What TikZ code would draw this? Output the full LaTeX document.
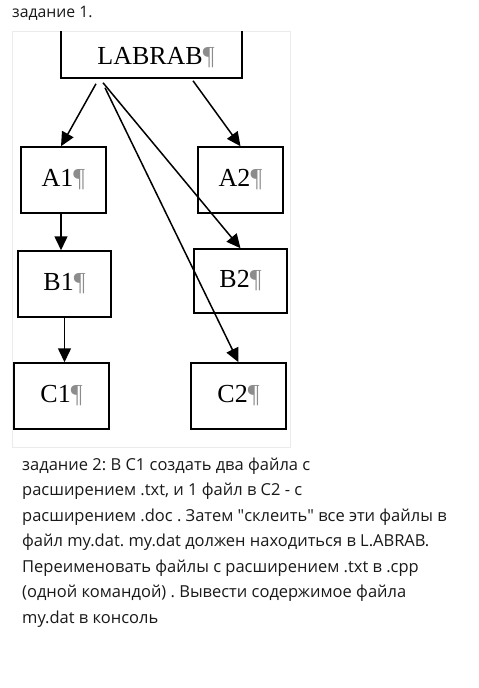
\documentclass[tikz,border=0pt]{standalone}
\usepackage{fontspec}
\setmainfont{Open Sans}
\newfontfamily\boxfont{Liberation Serif}
\usetikzlibrary{arrows.meta}
\frenchspacing

\newcommand{\pil}{\textcolor{black!45}{¶}}

\tikzset{
  box/.style={draw, line width=1.5pt, font=\boxfont\fontsize{26}{30}\selectfont},
  arr/.style={line width=1.5pt, -{Triangle[length=14pt,width=13pt]}},
  line/.style={font=\fontsize{16.5}{19}\selectfont, anchor=base west, inner sep=0pt, text=black!90}
}

\begin{document}
\begin{tikzpicture}[x=1pt,y=-1pt]
\useasboundingbox (0,0) rectangle (479,688);

\node[anchor=base west, inner sep=0pt, text=black!90, font=\fontsize{15.8}{18}\selectfont] (title) at (12,17) {задание 1.};

% picture frame
\draw[black!8, line width=0.8pt] (12,31) rectangle (290,447);

\begin{scope}
\clip (12,31) rectangle (290,447);
\node[box, minimum width=181, minimum height=58] (labrab) at (151.5,49) {};
\node[font=\boxfont\fontsize{26}{30}\selectfont] (labrabtxt) at (156,57.5) {LABRAB\pil};

\node[box, minimum width=85, minimum height=66] (a1) at (63.5,180) {A1\pil};
\node[box, minimum width=85, minimum height=66] (a2) at (240.5,180) {A2\pil};
\node[box, minimum width=93, minimum height=66] (b1) at (64.5,284) {B1\pil};
\node[box, minimum width=93, minimum height=64] (b2) at (240.5,281) {B2\pil};
\node[box, minimum width=95, minimum height=66] (c1) at (61.5,396) {C1\pil};
\node[box, minimum width=95, minimum height=66] (c2) at (238.5,396) {C2\pil};

\draw[arr] ([xshift=-55.5,yshift=-5]labrab.south) -- ([xshift=-2.5]a1.north);
\draw[arr] ([xshift=41.5,yshift=-2]labrab.south) -- (a2.north);
\draw[arr] ([xshift=-48.5,yshift=-4]labrab.south) -- (b2.north);
\draw[arr] ([xshift=-46.5,yshift=-9]labrab.south) -- (c2.north);
\draw[arr] ([xshift=-2.5]a1.south) -- ([xshift=-3.5]b1.north);
\draw[arr] (b1.south) -- ([xshift=3]c1.north);
\end{scope}

\foreach \t [count=\i from 0] in {
  {задание 2: В С1 создать два файла с},
  {расширением .txt, и 1 файл в С2 - с},
  {расширением .doc . Затем \textquotedbl склеить\textquotedbl{} все эти файлы в},
  {файл my.dat. my.dat должен находиться в L.ABRAB.},
  {Переименовать файлы с расширением .txt в .cpp},
  {(одной командой) . Вывести содержимое файла},
  {my.dat в консоль}}
  \node[line] (t\i) at (22,470+25.5*\i) {\t};

\end{tikzpicture}
\end{document}
